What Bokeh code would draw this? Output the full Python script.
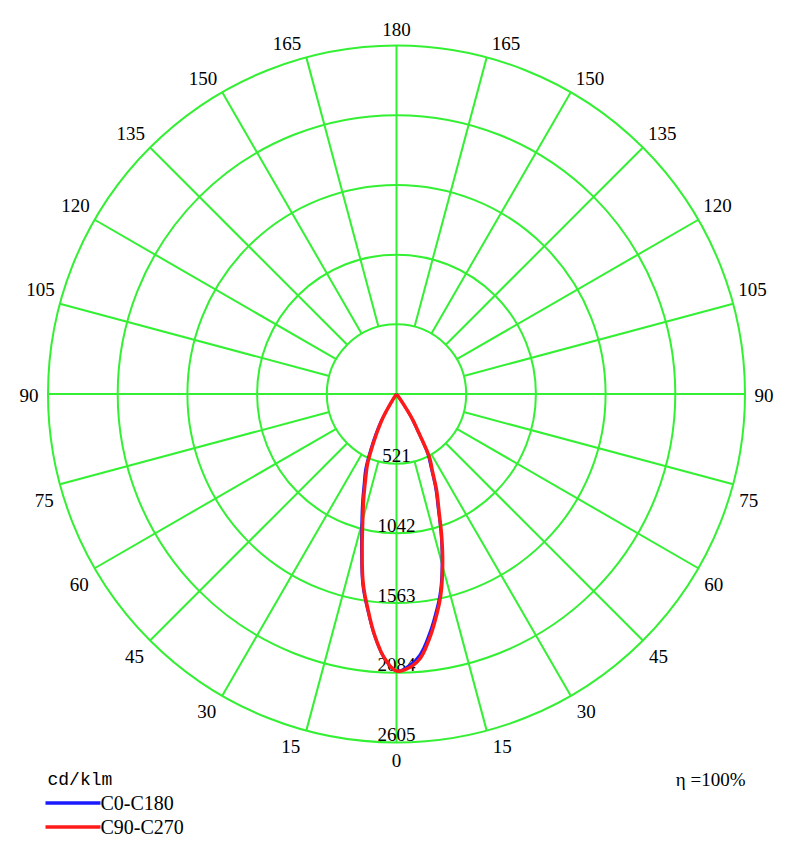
import numpy as np
from bokeh.plotting import figure
from bokeh.models import Range1d
from bokeh.core.properties import value
from bokeh.embed import file_html
from bokeh.resources import INLINE

# ---- data (cd/klm) ----
gamma = [0, 2.5, 5, 7.5, 10, 12.5, 15, 17.5, 20, 22.5, 25, 27.5, 30, 32.5, 35, 37.5, 40, 50, 60, 70, 80, 90]
c0_left   = [2070, 1985, 1830, 1640, 1455, 1215, 1010, 850, 712, 605, 460, 335, 225, 80, 5, 0, 0, 0, 0, 0, 0, 0]
c0_right  = [2070, 2035, 1960, 1825, 1670, 1510, 1310, 1105, 905, 760, 610, 500, 300, 185, 45, 0, 0, 0, 0, 0, 0, 0]
c90_left  = [2070, 1981, 1823, 1628, 1435, 1187, 975, 815, 676, 566, 417, 295, 190, 53, 0, 0, 0, 0, 0, 0, 0, 0]
c90_right = [2070, 2050, 1988, 1855, 1697, 1532, 1331, 1125, 927, 785, 635, 531, 328, 213, 60, 0, 0, 0, 0, 0, 0, 0]

rings = [521, 1042, 1563, 2084, 2605]
angle_ticks = list(range(0, 181, 15))
series_names = ["C0-C180", "C90-C270"]
series_colors = ["#1a1aff", "#ff1a1a"]
unit_label = "cd/klm"
eta_label = "η =100%"

# ---- layout ----
W, H = 796, 842
S = 348.5 / 2605.0          # px per cd
CX, CY = 396, 393.5          # centre in frame px
RMAX = rings[-1]
FONT = value("Liberation Serif")

def px(d):
    return d / S

p = figure(width=W, height=H, output_backend="svg", toolbar_location=None,
           x_range=Range1d(-CX / S, (W - CX) / S),
           y_range=Range1d(-(H - CY) / S, CY / S),
           min_border=0)
p.axis.visible = False
p.grid.visible = False
p.outline_line_color = None
p.background_fill_color = "white"

green = "#33f033"
for r in rings:
    p.circle(x=[0], y=[0], radius=r, fill_color=None, line_color=green, line_width=2)

for g in range(0, 360, 15):
    t = np.radians(g)
    r0 = 0 if g % 90 == 0 else rings[0]
    p.line([r0 * np.sin(t), RMAX * np.sin(t)], [-r0 * np.cos(t), -RMAX * np.cos(t)],
           line_color=green, line_width=2)

# angle labels, anchored near the end of each spoke
for a in angle_ticks:
    t = np.radians(a)
    sx, sy = RMAX * np.sin(t), -RMAX * np.cos(t)
    if a == 0:
        p.text(x=[0], y=[sy - px(18)], text=[str(a)], text_align="center", text_baseline="middle",
               text_font=FONT, text_font_size="19px", text_color="black")
        continue
    if a == 180:
        p.text(x=[0], y=[sy + px(16)], text=[str(a)], text_align="center", text_baseline="middle",
               text_font=FONT, text_font_size="19px", text_color="black")
        continue
    if a == 90:
        ddx, ddy = 9.5, -1.5
    elif a > 90:
        ddx, ddy = 5, 14
    else:
        ddx, ddy = 6, -16
    for s in (1, -1):
        p.text(x=[s * (sx + px(ddx))], y=[sy + px(ddy)], text=[str(a)],
               text_align="left" if s == 1 else "right", text_baseline="middle",
               text_font=FONT, text_font_size="19px", text_color="black")

# ring labels
p.text(x=[0] * len(rings), y=[-r + px(8) for r in rings], text=[str(r) for r in rings],
       text_align="center", text_baseline="middle",
       text_font=FONT, text_font_size="19px", text_color="black")

# curves (smoothly drawn through the data points)
def cr_seg(p0, p1, p2, p3, n):
    def tj(ti, pi, pj):
        return ti + max(np.hypot(*(pj - pi)), 1e-6) ** 0.5
    t0 = 0.0; t1 = tj(t0, p0, p1); t2 = tj(t1, p1, p2); t3 = tj(t2, p2, p3)
    t = np.linspace(t1, t2, n, endpoint=False)[:, None]
    A1 = (t1 - t) / (t1 - t0) * p0 + (t - t0) / (t1 - t0) * p1
    A2 = (t2 - t) / (t2 - t1) * p1 + (t - t1) / (t2 - t1) * p2
    A3 = (t3 - t) / (t3 - t2) * p2 + (t - t2) / (t3 - t2) * p3
    B1 = (t2 - t) / (t2 - t0) * A1 + (t - t0) / (t2 - t0) * A2
    B2 = (t3 - t) / (t3 - t1) * A2 + (t - t1) / (t3 - t1) * A3
    return (t2 - t) / (t2 - t1) * B1 + (t - t1) / (t2 - t1) * B2

def curve(left, right):
    g = np.radians(np.array(gamma, dtype=float))
    L = np.array(left, dtype=float)
    R = np.array(right, dtype=float)
    xr = R * np.sin(g); yr = -R * np.cos(g)
    xl = -L * np.sin(g); yl = -L * np.cos(g)
    xs = np.concatenate([xr[::-1], xl[1:]])
    ys = np.concatenate([yr[::-1], yl[1:]])
    P = np.column_stack([xs, ys])
    keep = [0]
    for i in range(1, len(P)):
        if np.hypot(*(P[i] - P[keep[-1]])) > 1e-6:
            keep.append(i)
    P = P[keep]
    Q = np.vstack([2 * P[0] - P[1], P, 2 * P[-1] - P[-2]])
    out = [cr_seg(Q[i], Q[i + 1], Q[i + 2], Q[i + 3], 12) for i in range(len(Q) - 3)]
    out.append(P[-1:])
    C = np.vstack(out)
    return C[:, 0], C[:, 1]

xb, yb = curve(c0_left, c0_right)
xr_, yr_ = curve(c90_left, c90_right)
p.line(xb, yb, line_color=series_colors[0], line_width=2.5, line_join="round")
p.line(xr_, yr_, line_color=series_colors[1], line_width=3.5, line_join="round")

# legend & annotations (frame px -> data)
def fx(x): return (x - CX) / S
def fy(y): return (CY - y) / S

p.text(x=[fx(47)], y=[fy(779)], text=[unit_label], text_align="left", text_baseline="middle",
       text_font=value("Liberation Mono"), text_font_size="18px", text_color="black")
for i, (nm, col) in enumerate(zip(series_names, series_colors)):
    yy = fy(802.5 + 24 * i)
    p.line([fx(45), fx(100)], [yy, yy], line_color=col, line_width=3.5)
    p.text(x=[fx(100)], y=[yy], text=[nm], text_align="left", text_baseline="middle",
           text_font=FONT, text_font_size="20px", text_color="black")
p.text(x=[fx(745)], y=[fy(779)], text=[eta_label], text_align="right", text_baseline="middle",
       text_font=FONT, text_font_size="19px", text_color="black")

open("out.html", "w").write(file_html(p, INLINE))
